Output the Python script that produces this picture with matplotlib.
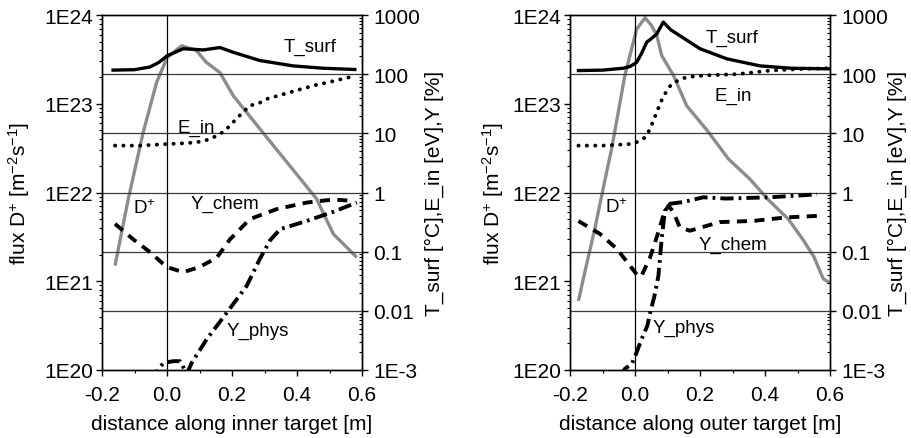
import matplotlib
matplotlib.use('Agg')
import matplotlib.pyplot as plt
from matplotlib.ticker import FixedLocator, FixedFormatter, LogLocator, NullFormatter, MultipleLocator

plt.rcParams['font.family'] = ['Liberation Sans', 'DejaVu Sans']
plt.rcParams['mathtext.fontset'] = 'custom'
plt.rcParams['mathtext.rm'] = 'Liberation Sans'
plt.rcParams['mathtext.it'] = 'Liberation Sans:italic'
plt.rcParams['mathtext.default'] = 'regular'

# ---------------- data: inner target ----------------
in_dflux_x = [-0.16, -0.119, -0.073, -0.032, 0.0, 0.045, 0.09, 0.12, 0.163, 0.204, 0.286, 0.388, 0.46, 0.512, 0.584]
in_dflux_y = [1.5e21, 8.5e21, 4.8e22, 1.74e23, 3.3e23, 4.5e23, 4.0e23, 2.95e23, 2.24e23, 1.23e23, 5.2e22, 1.8e22, 8.5e21, 3.4e21, 1.86e21]

in_tsurf_x = [-0.166, -0.1, -0.053, -0.025, 0.0, 0.05, 0.112, 0.163, 0.204, 0.286, 0.388, 0.48, 0.578]
in_tsurf_y = [117, 119, 132, 158, 204, 269, 257, 282, 234, 170, 138, 126, 120]

in_ein_x = [-0.16, -0.08, 0.0, 0.06, 0.1, 0.13, 0.153, 0.178, 0.204, 0.229, 0.255, 0.28, 0.306, 0.357, 0.408, 0.46, 0.51, 0.563]
in_ein_y = [6.2, 6.2, 6.6, 6.8, 7.2, 7.9, 9.1, 11.0, 15.5, 21.4, 29.5, 31.6, 38.0, 45.7, 55.0, 66.0, 75.9, 89.0]

in_ychem_x = [-0.16, -0.104, -0.052, -0.001, 0.05, 0.1, 0.153, 0.194, 0.255, 0.338, 0.43, 0.51, 0.578]
in_ychem_y = [0.295, 0.162, 0.098, 0.055, 0.045, 0.055, 0.079, 0.162, 0.355, 0.525, 0.676, 0.76, 0.72]

in_yphys_x = [-0.045, -0.027, -0.011, 0.02, 0.04, 0.055, 0.062, 0.076, 0.122, 0.184, 0.245, 0.286, 0.317, 0.348, 0.43, 0.51, 0.584]
in_yphys_y = [6.3e-4, 1.02e-3, 1.32e-3, 1.41e-3, 1.41e-3, 1.0e-3, 8.9e-4, 1.32e-3, 3.3e-3, 9.3e-3, 0.0263, 0.0759, 0.155, 0.24, 0.331, 0.468, 0.676]

# ---------------- data: outer target ----------------
out_dflux_x = [-0.174, -0.159, -0.123, -0.092, -0.072, -0.031, 0.005, 0.031, 0.051, 0.067, 0.082, 0.118, 0.159, 0.226, 0.287, 0.354, 0.41, 0.472, 0.518, 0.55, 0.579, 0.6]
out_dflux_y = [6.0e20, 1.07e21, 4.0e21, 1.41e22, 3.1e22, 2.1e23, 6.9e23, 9.3e23, 7.6e23, 5.9e23, 3.5e23, 2.1e23, 9.5e22, 4.8e22, 2.4e22, 1.41e22, 8.3e21, 5.0e21, 2.9e21, 1.9e21, 1.07e21, 9.5e20]

out_tsurf_x = [-0.174, -0.1, -0.036, -0.015, 0.005, 0.02, 0.036, 0.05, 0.067, 0.087, 0.11, 0.138, 0.2, 0.282, 0.385, 0.48, 0.6]
out_tsurf_y = [115, 117, 126, 135, 158, 224, 347, 398, 479, 759, 562, 447, 269, 182, 138, 126, 123]

out_ein_x = [-0.174, -0.1, -0.015, 0.005, 0.031, 0.046, 0.056, 0.067, 0.077, 0.089, 0.108, 0.133, 0.159, 0.21, 0.313, 0.415, 0.518, 0.6]
out_ein_y = [6.2, 6.2, 6.6, 7.1, 8.5, 11.7, 16.2, 22.9, 31.6, 43.7, 63.0, 79.0, 89.0, 95.0, 100.0, 115.0, 123.0, 126.0]

out_ychem_x = [-0.174, -0.108, -0.056, -0.015, 0.01, 0.02, 0.046, 0.072, 0.087, 0.103, 0.118, 0.138, 0.169, 0.26, 0.364, 0.467, 0.58]
out_ychem_y = [0.33, 0.2, 0.112, 0.0575, 0.038, 0.039, 0.079, 0.214, 0.407, 0.60, 0.468, 0.257, 0.226, 0.316, 0.331, 0.38, 0.407]

out_yphys_x = [-0.045, -0.031, -0.01, 0.003, 0.02, 0.038, 0.048, 0.059, 0.072, 0.082, 0.092, 0.108, 0.149, 0.21, 0.28, 0.415, 0.56]
out_yphys_y = [7.9e-4, 1.05e-3, 1.26e-3, 1.86e-3, 3.3e-3, 5.6e-3, 0.01, 0.017, 0.039, 0.162, 0.49, 0.646, 0.69, 0.83, 0.79, 0.83, 0.93]

# ---------------- ticks / labels ----------------
x_ticks = [-0.2, 0.0, 0.2, 0.4, 0.6]
x_tick_labels = ['-0.2', '0.0', '0.2', '0.4', '0.6']
left_ticks = [1e20, 1e21, 1e22, 1e23, 1e24]
left_tick_labels = ['1E20', '1E21', '1E22', '1E23', '1E24']
right_ticks = [1e-3, 1e-2, 1e-1, 1e0, 1e1, 1e2, 1e3]
right_tick_labels = ['1E-3', '0.01', '0.1', '1', '10', '100', '1000']
series_names = ['T_surf', 'E_in', 'D$^{+}$', 'Y_chem', 'Y_phys']
xlabels = ['distance along inner target [m]', 'distance along outer target [m]']
left_ylabel = 'flux D$^{+}$ [m$^{-2}$s$^{-1}$]'
right_ylabel = 'T_surf [°C],E_in [eV],Y [%]'

# annotation positions (x, right-axis value) per panel
label_pos = [
    [(0.44, 290), (0.09, 12.6), (-0.069, 0.55), (0.178, 0.65), (0.28, 0.0046)],
    [(0.2975, 417), (0.302, 43.3), (-0.058, 0.58), (0.302, 0.135), (0.149, 0.0052)],
]
right_label_x = [1.24, 1.22]
left_label_x = [-0.27, -0.245]

FS = 15
GRAY = '#8c8c8c'

fig = plt.figure(figsize=(9.11, 4.39), dpi=100)
W, H = 911.0, 439.0
panel_left_px = [102, 570]

panels = [
    (in_dflux_x, in_dflux_y, in_tsurf_x, in_tsurf_y, in_ein_x, in_ein_y, in_ychem_x, in_ychem_y, in_yphys_x, in_yphys_y),
    (out_dflux_x, out_dflux_y, out_tsurf_x, out_tsurf_y, out_ein_x, out_ein_y, out_ychem_x, out_ychem_y, out_yphys_x, out_yphys_y),
]

for i, (dx, dy, tx, ty, ex, ey, cx, cy, px, py) in enumerate(panels):
    ax = fig.add_axes([panel_left_px[i] / W, 68 / H, 260 / W, 355 / H])
    ax2 = ax.twinx()
    ax.set_zorder(1)
    ax2.set_zorder(2)

    ax.set_yscale('log')
    ax.set_ylim(1e20, 1e24)
    ax.set_xlim(-0.2, 0.6)
    ax2.set_yscale('log')
    ax2.set_ylim(1e-3, 1e3)

    # grid lines at right-axis decades and vertical line at x=0
    for v in right_ticks[1:-1]:
        ax2.axhline(v, color='#3a3a3a', lw=0.9, zorder=0.5)
    ax2.axvline(0.0, color='black', lw=0.9, zorder=0.5)

    ax.plot(dx, dy, color=GRAY, lw=2.4, solid_capstyle='butt')
    ax2.plot(tx, ty, color='black', lw=2.4)
    ax2.plot(ex, ey, color='black', lw=2.8, linestyle=(0, (0.05, 2.1)), dash_capstyle='round')
    ax2.plot(cx, cy, color='black', lw=2.8, linestyle=(0, (2.6, 1.9)))
    ax2.plot(px, py, color='black', lw=2.8, linestyle=(0, (3.4, 1.3, 0.7, 1.3)))

    # ticks
    ax.xaxis.set_major_locator(FixedLocator(x_ticks))
    ax.xaxis.set_major_formatter(FixedFormatter(x_tick_labels))
    ax.xaxis.set_minor_locator(MultipleLocator(0.1))
    ax.yaxis.set_major_locator(FixedLocator(left_ticks))
    ax.yaxis.set_major_formatter(FixedFormatter(left_tick_labels))
    ax.yaxis.set_minor_locator(LogLocator(base=10, subs=range(2, 10)))
    ax.yaxis.set_minor_formatter(NullFormatter())
    ax2.yaxis.set_major_locator(FixedLocator(right_ticks))
    ax2.yaxis.set_major_formatter(FixedFormatter(right_tick_labels))
    ax2.yaxis.set_minor_locator(LogLocator(base=10, subs=range(2, 10)))
    ax2.yaxis.set_minor_formatter(NullFormatter())

    for a in (ax, ax2):
        a.tick_params(which='major', direction='out', length=4, width=1.0, labelsize=FS, pad=2.5)
        a.tick_params(which='minor', direction='out', length=2.2, width=0.8)
        for s in a.spines.values():
            s.set_linewidth(1.0)
    ax2.tick_params(which='major', pad=4)
    ax2.tick_params(which='minor', direction='in', length=2.5)
    ax.tick_params(axis='x', which='major', pad=7)

    ax.set_xlabel(xlabels[i], fontsize=FS)
    ax.xaxis.set_label_coords(0.5, -0.125)
    ax.set_ylabel(left_ylabel, fontsize=FS)
    ax.yaxis.set_label_coords(left_label_x[i], 0.5)
    ax2.set_ylabel(right_ylabel, fontsize=FS)
    ax2.yaxis.set_label_coords(right_label_x[i], 0.5)

    for name, (lx, ly) in zip(series_names, label_pos[i]):
        ax2.text(lx, ly, name, fontsize=13.5, ha='center', va='center')

fig.savefig('out.png', dpi=100)
